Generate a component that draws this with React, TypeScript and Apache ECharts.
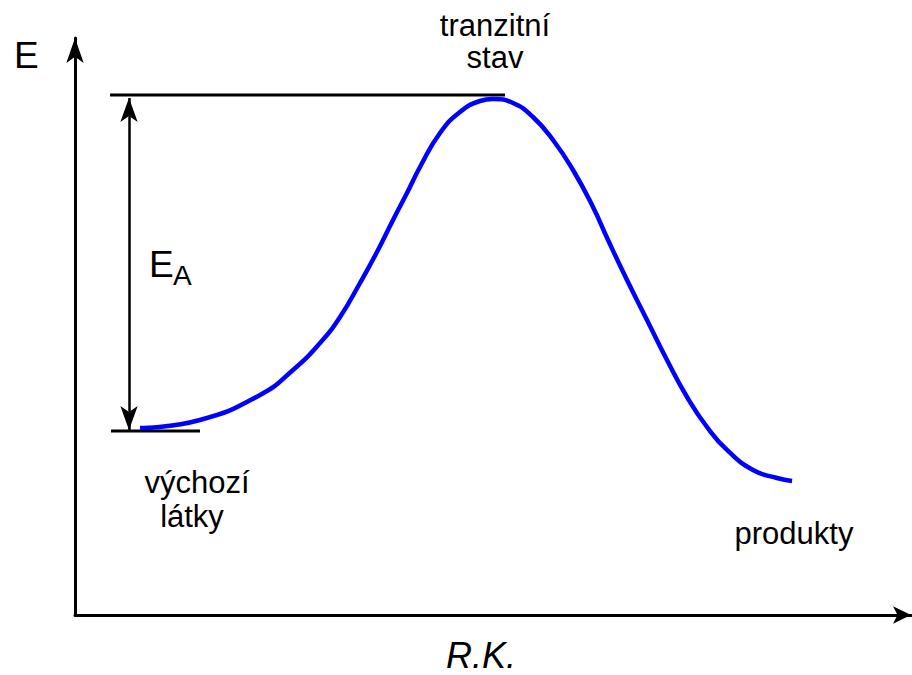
import React, { useEffect, useRef } from "react";
import * as echarts from "echarts";

// Reaction coordinate (0–100) and energy (0–100)
const reactionCoord = [7.78, 14.95, 22.13, 26.08, 29.31, 31.7, 34.09, 36.12, 38.04, 39.71, 41.27, 43.66, 46.05, 48.44, 50.0, 52.39, 54.78, 57.18, 59.57, 61.96, 63.76, 66.03, 68.42, 70.81, 73.21, 75.6, 77.99, 81.1, 83.97, 85.77];
const energy = [32.41, 33.8, 38.13, 42.46, 47.14, 51.65, 57.54, 62.91, 68.46, 73.14, 77.64, 83.54, 87.18, 89.08, 89.43, 88.73, 86.31, 82.32, 77.12, 70.71, 64.99, 58.06, 51.13, 44.19, 37.78, 32.58, 28.6, 25.13, 23.74, 23.22];

const tsLevel = 90.12;
const tsLineX = [4.19, 51.44];
const reactantLevel = 31.89;
const reactantLineX = [4.31, 14.95];
const eaArrowX = 6.46;
const eaArrowRange = [32.06, 89.6];

const labels = {
  axisY: "E",
  axisX: "R.K.",
  ts: ["tranzitní", "stav"],
  reactants: ["výchozí", "látky"],
  products: "produkty",
  ea: ["E", "A"],
};

const FONT = "'Liberation Sans', Arial, sans-serif";

export default function App() {
  const ref = useRef<HTMLDivElement>(null);
  useEffect(() => {
    if (!ref.current) return;
    const chart = echarts.init(ref.current, null, { renderer: "svg" });
    const txt = (text: string, x: number, y: number, fontSize: number, align = "center", italic = false) => ({
      type: "text",
      x,
      y,
      silent: true,
      style: {
        text,
        fill: "#000",
        fontSize,
        lineHeight: Math.round(fontSize * 0.85),
        fontFamily: FONT,
        fontStyle: italic ? "italic" : "normal",
        align,
        verticalAlign: "middle",
      },
    });
    chart.setOption({
      animation: false,
      backgroundColor: "#fff",
      grid: { left: 75, right: 1, top: 38, bottom: 60 },
      xAxis: {
        type: "value",
        min: 0,
        max: 100,
        axisLine: {
          show: true,
          onZero: false,
          symbol: ["none", "arrow"],
          symbolSize: [13, 18],
          lineStyle: { color: "#000", width: 3 },
        },
        axisTick: { show: false },
        axisLabel: { show: false },
        splitLine: { show: false },
      },
      yAxis: {
        type: "value",
        min: 0,
        max: 100,
        axisLine: {
          show: true,
          onZero: false,
          symbol: ["none", "arrow"],
          symbolSize: [13, 25],
          lineStyle: { color: "#000", width: 3 },
        },
        axisTick: { show: false },
        axisLabel: { show: false },
        splitLine: { show: false },
      },
      series: [
        {
          type: "line",
          data: tsLineX.map((x) => [x, tsLevel]),
          symbol: "none",
          lineStyle: { color: "#000", width: 3 },
          z: 3,
        },
        {
          type: "line",
          data: reactantLineX.map((x) => [x, reactantLevel]),
          symbol: "none",
          lineStyle: { color: "#000", width: 3 },
          z: 3,
          markLine: {
            silent: true,
            symbol: ["arrow", "arrow"],
            symbolSize: [13, 24],
            label: { show: false },
            lineStyle: { color: "#000", width: 2.5, type: "solid" },
            data: [[{ coord: [eaArrowX, eaArrowRange[0]] }, { coord: [eaArrowX, eaArrowRange[1]] }]],
          },
        },
        {
          type: "line",
          data: reactionCoord.map((x, i) => [x, energy[i]]),
          symbol: "none",
          smooth: 0.5,
          lineStyle: { color: "#0000ff", width: 4.5, join: "round", cap: "butt" },
          z: 4,
        },
      ],
      graphic: [
        txt(labels.axisY, 14, 55, 37, "left"),
        txt(labels.ts[0], 495, 25.3, 31),
        txt(labels.ts[1], 495, 57.3, 31),
        txt(labels.ea[0], 149, 264.2, 37, "left"),
        txt(labels.ea[1], 173, 275.3, 28, "left"),
        txt(labels.reactants[0], 197, 482.3, 31),
        txt(labels.reactants[1], 192, 516.3, 31),
        txt(labels.products, 794, 533.3, 31),
        txt(labels.axisX, 481, 655.5, 36, "center", true),
      ],
    });
    return () => chart.dispose();
  }, []);
  return <div ref={ref} style={{ width: 912, height: 675, position: "absolute", left: 0, top: 0 }} />;
}
